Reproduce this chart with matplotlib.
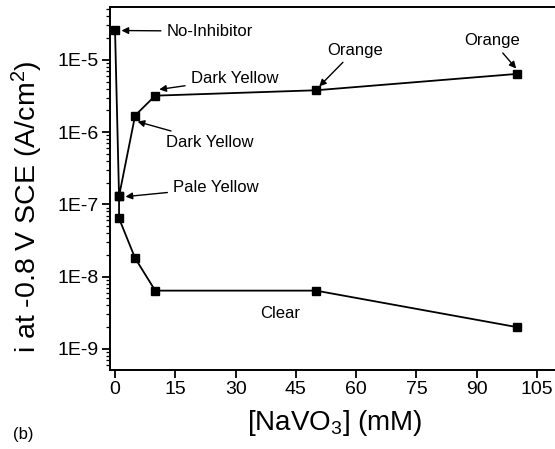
import numpy as np
import matplotlib
matplotlib.use("Agg")
import matplotlib.pyplot as plt
from matplotlib.ticker import LogLocator, FixedLocator, NullFormatter

plt.rcParams['font.family'] = ['Liberation Sans', 'DejaVu Sans']
plt.rcParams['mathtext.default'] = 'regular'

# === Données ===
# branche haute (sans inhibiteur -> couleurs de la solution)
x_high = [0, 1, 5, 10, 50, 100]
i_high = [2.6e-5, 1.3e-7, 1.7e-6, 3.2e-6, 3.8e-6, 6.4e-6]
# branche basse
x_low = [1, 1, 5, 10, 50, 100]
i_low = [1.3e-7, 6.4e-8, 1.8e-8, 6.4e-9, 6.4e-9, 2.0e-9]

x_ticks = [0, 15, 30, 45, 60, 75, 90, 105]
y_ticks = [1e-9, 1e-8, 1e-7, 1e-6, 1e-5]
y_ticklabels = ["1E-9", "1E-8", "1E-7", "1E-6", "1E-5"]

# annotations : (texte, point visé, position du texte, alignement)
labels = [
    ("No-Inhibitor", (1.6, 2.55e-5), (12.8, 2.5e-5), 'left'),
    ("Dark Yellow", (11.0, 3.9e-6), (18.8, 5.5e-6), 'left'),
    ("Dark Yellow", (5.6, 1.4e-6), (12.8, 7.3e-7), 'left'),
    ("Pale Yellow", (2.6, 1.28e-7), (14.4, 1.7e-7), 'left'),
    ("Orange", (50.8, 4.3e-6), (59.7, 1.37e-5), 'center'),
    ("Orange", (99.8, 7.6e-6), (93.8, 1.85e-5), 'center'),
]

fig = plt.figure(figsize=(5.55, 4.49), dpi=100)
ax = fig.add_axes([110 / 555, 79 / 449, 450 / 555, 363 / 449])

ax.plot(x_high, i_high, color='black', lw=1.3, marker='s', ms=6, zorder=3)
ax.plot(x_low, i_low, color='black', lw=1.3, marker='s', ms=6, zorder=3)

ax.set_yscale('log')
ax.set_xlim(-1.25, 110.7)
ax.set_ylim(5.1e-10, 5.4e-5)

ax.xaxis.set_major_locator(FixedLocator(x_ticks))
ax.set_yticks(y_ticks)
ax.set_yticklabels(y_ticklabels)
ax.yaxis.set_minor_locator(LogLocator(base=10, subs=np.arange(2, 10)))
ax.yaxis.set_minor_formatter(NullFormatter())
ax.tick_params(axis='both', which='major', direction='out', length=6, width=1.3, labelsize=14, pad=2)
ax.tick_params(axis='y', which='minor', direction='out', length=3, width=0.9)
ax.spines['right'].set_visible(False)
for s in ['left', 'bottom', 'top']:
    ax.spines[s].set_linewidth(1.4)

for txt, xy, xyt, ha in labels:
    ax.annotate(txt, xy=xy, xytext=xyt, textcoords='data', fontsize=12, ha=ha, va='center',
                arrowprops=dict(arrowstyle='-|>', color='black', lw=1.0, mutation_scale=10,
                                shrinkA=2, shrinkB=0))

ax.text(41, 3.05e-9, "Clear", fontsize=12, ha='center', va='center')

ax.set_xlabel("[NaVO$_3$] (mM)", fontsize=20)
ax.xaxis.set_label_coords(0.5, -0.105)
ax.set_ylabel("i at -0.8 V SCE (A/cm$^2$)", fontsize=20.5)
ax.yaxis.set_label_coords(-0.145, 0.45)

fig.text(13 / 555, 1 - 435 / 449, "(b)", fontsize=12, ha='left', va='center')

fig.savefig("out.png", dpi=100)
